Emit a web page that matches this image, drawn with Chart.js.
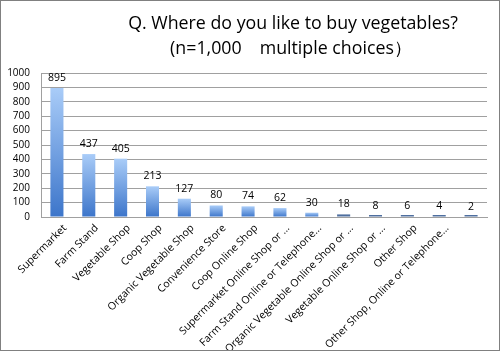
<!DOCTYPE html>
<html><head><meta charset="utf-8">
<script src="https://cdn.jsdelivr.net/npm/chart.js@4/dist/chart.umd.min.js"></script>
<style>html,body{margin:0;padding:0;background:#fff}canvas{display:block}</style>
</head><body>
<canvas id="c" width="500" height="351"></canvas>
<script>
const titleLines = ['Q. Where do you like to buy vegetables?', '(n=1,000\u3000multiple choices\uFF09'];
const categories = [
  'Supermarket', 'Farm Stand', 'Vegetable Shop', 'Coop Shop', 'Organic Vegetable Shop',
  'Convenience Store', 'Coop Online Shop', 'Supermarket Online Shop or ...',
  'Farm Stand Online or Telephone...', 'Organic Vegetable Online Shop or ...',
  'Vegetable Online Shop or ...', 'Other Shop', 'Other Shop, Online or Telephone...', ''
];
const values = [895, 437, 405, 213, 127, 80, 74, 62, 30, 18, 8, 6, 4, 2];
const yTicks = [0, 100, 200, 300, 400, 500, 600, 700, 800, 900, 1000];

const FONT = '"Open Sans", "Noto Sans", sans-serif';

const barFill = (ctx) => {
  const chart = ctx.chart;
  if (!chart.chartArea || !chart.scales.y) return '#6a9fe6';
  const y = chart.scales.y;
  const top = y.getPixelForValue(ctx.raw), bot = y.getPixelForValue(0);
  if (!(bot - top > 3)) return '#4f6f9f';
  const g = chart.ctx.createLinearGradient(0, top, 0, bot);
  g.addColorStop(0, '#a9ccf8');
  g.addColorStop(1, '#3c75ca');
  return g;
};

const decor = {
  id: 'decor',
  afterDatasetsDraw(chart) {
    const c = chart.ctx;
    const meta = chart.getDatasetMeta(0);
    c.save();
    c.font = '10.5px ' + FONT;
    c.fillStyle = '#000';
    c.textAlign = 'center';
    c.textBaseline = 'alphabetic';
    meta.data.forEach((bar, i) => {
      const yTop = chart.scales.y.getPixelForValue(values[i]);
      c.fillText(String(values[i]), bar.x, yTop - 7);
    });
    c.restore();
  },
  afterDraw(chart) {
    const c = chart.ctx;
    c.save();
    c.fillStyle = '#000';
    c.textAlign = 'center';
    c.textBaseline = 'middle';
    c.font = '17.8px ' + FONT;
    c.fillText(titleLines[0], 293, 24);
    c.fillText(titleLines[1], 291, 49);
    c.strokeStyle = '#808080';
    c.lineWidth = 1;
    c.strokeRect(0.5, 0.5, 499, 350);
    c.restore();
  }
};

new Chart(document.getElementById('c'), {
  type: 'bar',
  data: {
    labels: categories,
    datasets: [{
      data: values,
      backgroundColor: barFill,
      borderWidth: 0,
      minBarLength: 2,
      barPercentage: 0.41,
      categoryPercentage: 1
    }]
  },
  options: {
    responsive: false,
    animation: false,
    devicePixelRatio: 1,
    layout: { padding: { top: 73, right: 13, left: 0, bottom: 0 } },
    plugins: { legend: { display: false }, tooltip: { enabled: false }, title: { display: false } },
    scales: {
      x: {
        grid: { display: false, drawTicks: false },
        border: { display: true, color: '#a0a0a0' },
        ticks: {
          autoSkip: false, maxRotation: 45, minRotation: 45, padding: 5, labelOffset: 8,
          color: '#000', font: { family: FONT, size: 10.5 }
        },
        afterFit(s) { s.height = 134; }
      },
      y: {
        min: 0, max: 1000,
        grid: { color: '#a0a0a0', drawTicks: false },
        border: { display: true, color: '#a0a0a0' },
        afterBuildTicks(s) { s.ticks = yTicks.map(v => ({ value: v })); },
        ticks: {
          autoSkip: false, padding: 11, color: '#000', font: { family: FONT, size: 10 },
          callback: (v) => String(v)
        },
        afterFit(s) { s.width = 41; }
      }
    }
  },
  plugins: [decor]
});
</script>
</body></html>
